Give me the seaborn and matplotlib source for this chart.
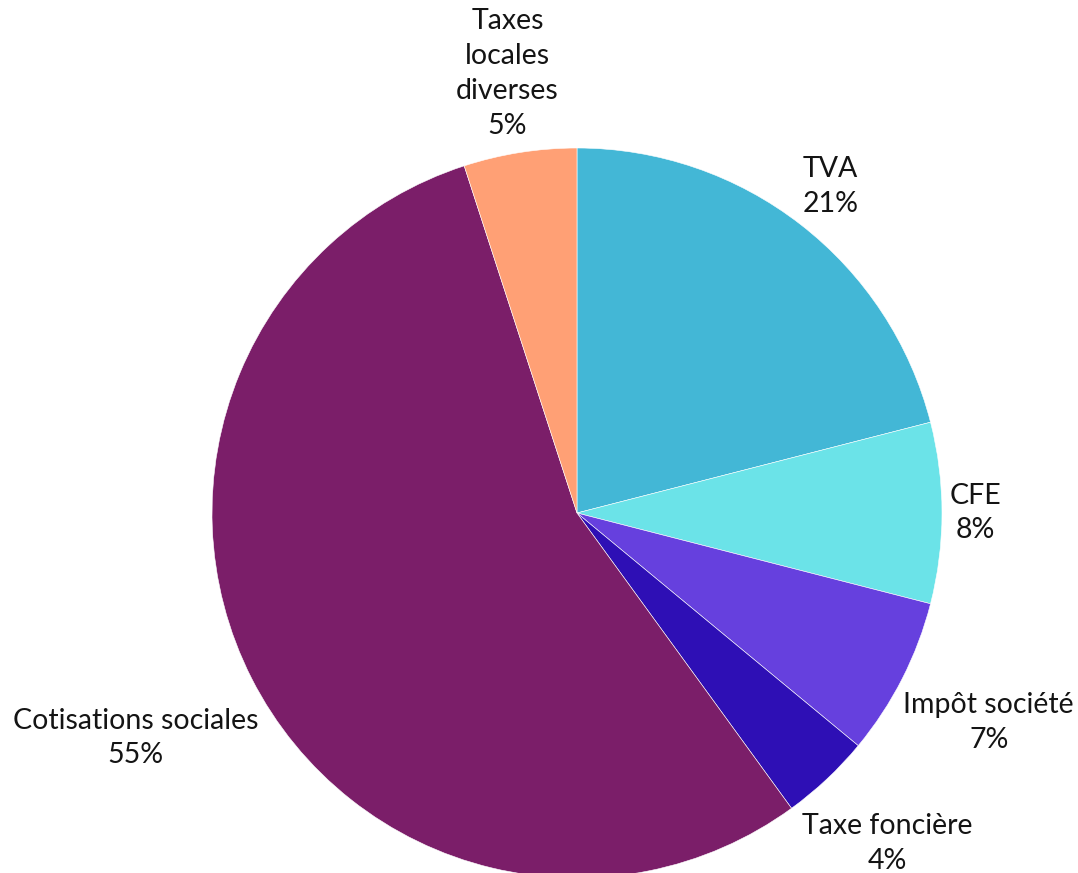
import matplotlib
matplotlib.use("Agg")
import matplotlib.pyplot as plt
import seaborn as sns
import numpy as np

# Répartition des prélèvements (en %)
categories = ["TVA", "CFE", "Impôt société", "Taxe foncière",
              "Cotisations sociales", "Taxes\nlocales\ndiverses"]
values = [21, 8, 7, 4, 55, 5]
colors = ["#43B7D6", "#6BE3E8", "#6640DE", "#2E0FB5", "#7B1E69", "#FFA075"]

sns.set_theme(style="white")
plt.rcParams["font.family"] = ["Lato", "DejaVu Sans"]

W, H, DPI = 1078, 873, 100
fig = plt.figure(figsize=(W / DPI, H / DPI), dpi=DPI)
ax = fig.add_axes([0, 0, 1, 1])

wedges, _ = ax.pie(values, colors=sns.color_palette(colors), startangle=90,
                   counterclock=False, radius=1.0,
                   wedgeprops=dict(edgecolor="white", linewidth=0.4))

# pie centre at (577, 513) px, radius 365 px
r_px = 365
cx, cy = 577, 513
ax.set_xlim(-cx / r_px, (W - cx) / r_px)
ax.set_ylim(-(H - cy) / r_px, cy / r_px)
ax.set_aspect("equal")
ax.axis("off")

labels = [f"{c}\n{v}%" for c, v in zip(categories, values)]
texts = []
for w, lab in zip(wedges, labels):
    ang = np.deg2rad((w.theta1 + w.theta2) / 2)
    t = ax.text(0, 0, lab, ha="center", va="center", fontsize=20.5,
                color="#141414", linespacing=1.42)
    texts.append((t, ang))

# put each label box just outside the circle, along the slice middle
fig.canvas.draw()
renderer = fig.canvas.get_renderer()
for t, ang in texts:
    bb = t.get_window_extent(renderer)
    a = bb.width / 2 / r_px
    b = bb.height / 2 / r_px
    c, s = np.cos(ang), np.sin(ang)
    d = 1.02 + a * abs(c) + b * abs(s)
    t.set_position((d * c, d * s))

fig.savefig("out.png", dpi=DPI, facecolor="white")
